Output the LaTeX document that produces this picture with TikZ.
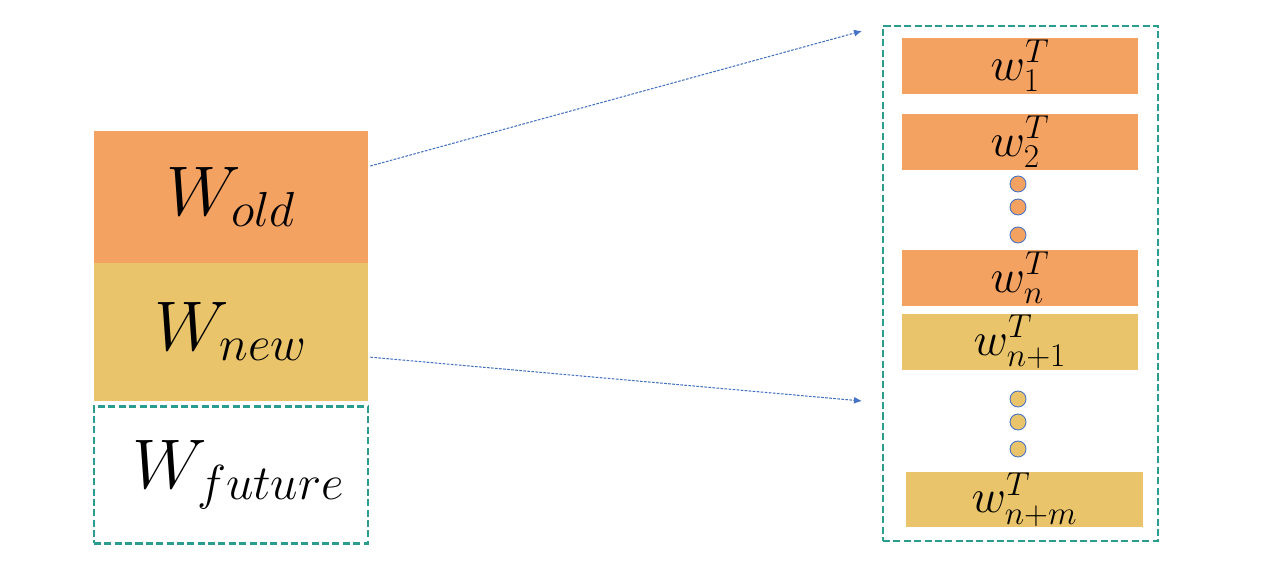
\documentclass[tikz,border=0pt]{standalone}
\usepackage{fix-cm}
\usepackage{amsmath}
\usepackage{xcolor}
\usetikzlibrary{arrows.meta,positioning,calc}
\definecolor{wold}{HTML}{F4A261}
\definecolor{wnew}{HTML}{E9C46A}
\definecolor{wteal}{HTML}{2A9D8F}
\definecolor{wlink}{HTML}{4472C4}
\tikzset{
  blk/.style={minimum width=5.48cm, inner sep=0pt, font=\fontsize{40}{44}\selectfont},
  bar/.style={minimum width=4.72cm, minimum height=1.12cm, inner sep=0pt,
              font=\fontsize{27}{31}\selectfont},
  dashbox/.style={draw=wteal, line width=1.6pt, dash pattern=on 4pt off 1.9pt},
  dot/.style={circle, draw=wlink, line width=0.5pt, minimum size=0.32cm, inner sep=0pt},
  link/.style={-{Latex[length=1.6mm,width=1.4mm]}, draw=wlink, line width=0.6pt,
               dash pattern=on 1.5pt off 0.8pt}
}

\begin{document}
\begin{tikzpicture}[x=0.02cm, y=-0.02cm]
\useasboundingbox (0,0) rectangle (1280,567);
\node[blk, fill=wold, minimum height=2.64cm] (old) at (231,197) {$W_{old}$};
\node[blk, fill=wnew, minimum height=2.76cm, below=-0.02cm of old] (new) {$W_{new}$};
\node[blk, dashbox, minimum height=2.74cm, below=0.08cm of new] (future) {\hspace{0.3cm}$W_{future}$};
\node[dashbox, minimum width=5.5cm, minimum height=10.3cm] (stack) at (1020.5,283.5) {};
\node[bar, fill=wold] (w1) at (1020,66) {$w_1^T$};
\node[bar, fill=wold] (w2) at (1020,142) {$w_2^T$};
\node[bar, fill=wold] (wn) at (1020,278) {$w_n^T$};
\node[bar, fill=wnew] (wn1) at (1020,342) {$w_{n+1}^T$};
\node[bar, fill=wnew, minimum width=4.74cm] (wnm) at (1024.5,499.5) {$w_{n+m}^T$};
\foreach \y [count=\i] in {184,207,235}
  \node[dot, fill=wold] (a\i) at (1018,\y) {};
\foreach \y [count=\i] in {399,422,449}
  \node[dot, fill=wnew] (b\i) at (1018,\y) {};
\coordinate (t1) at (862,31);
\coordinate (t2) at (862,401);
\draw[link] ($(old.east)+(2,-31)$) -- (t1);
\draw[link] ($(new.east)+(2,25.5)$) -- (t2);
\end{tikzpicture}
\end{document}
